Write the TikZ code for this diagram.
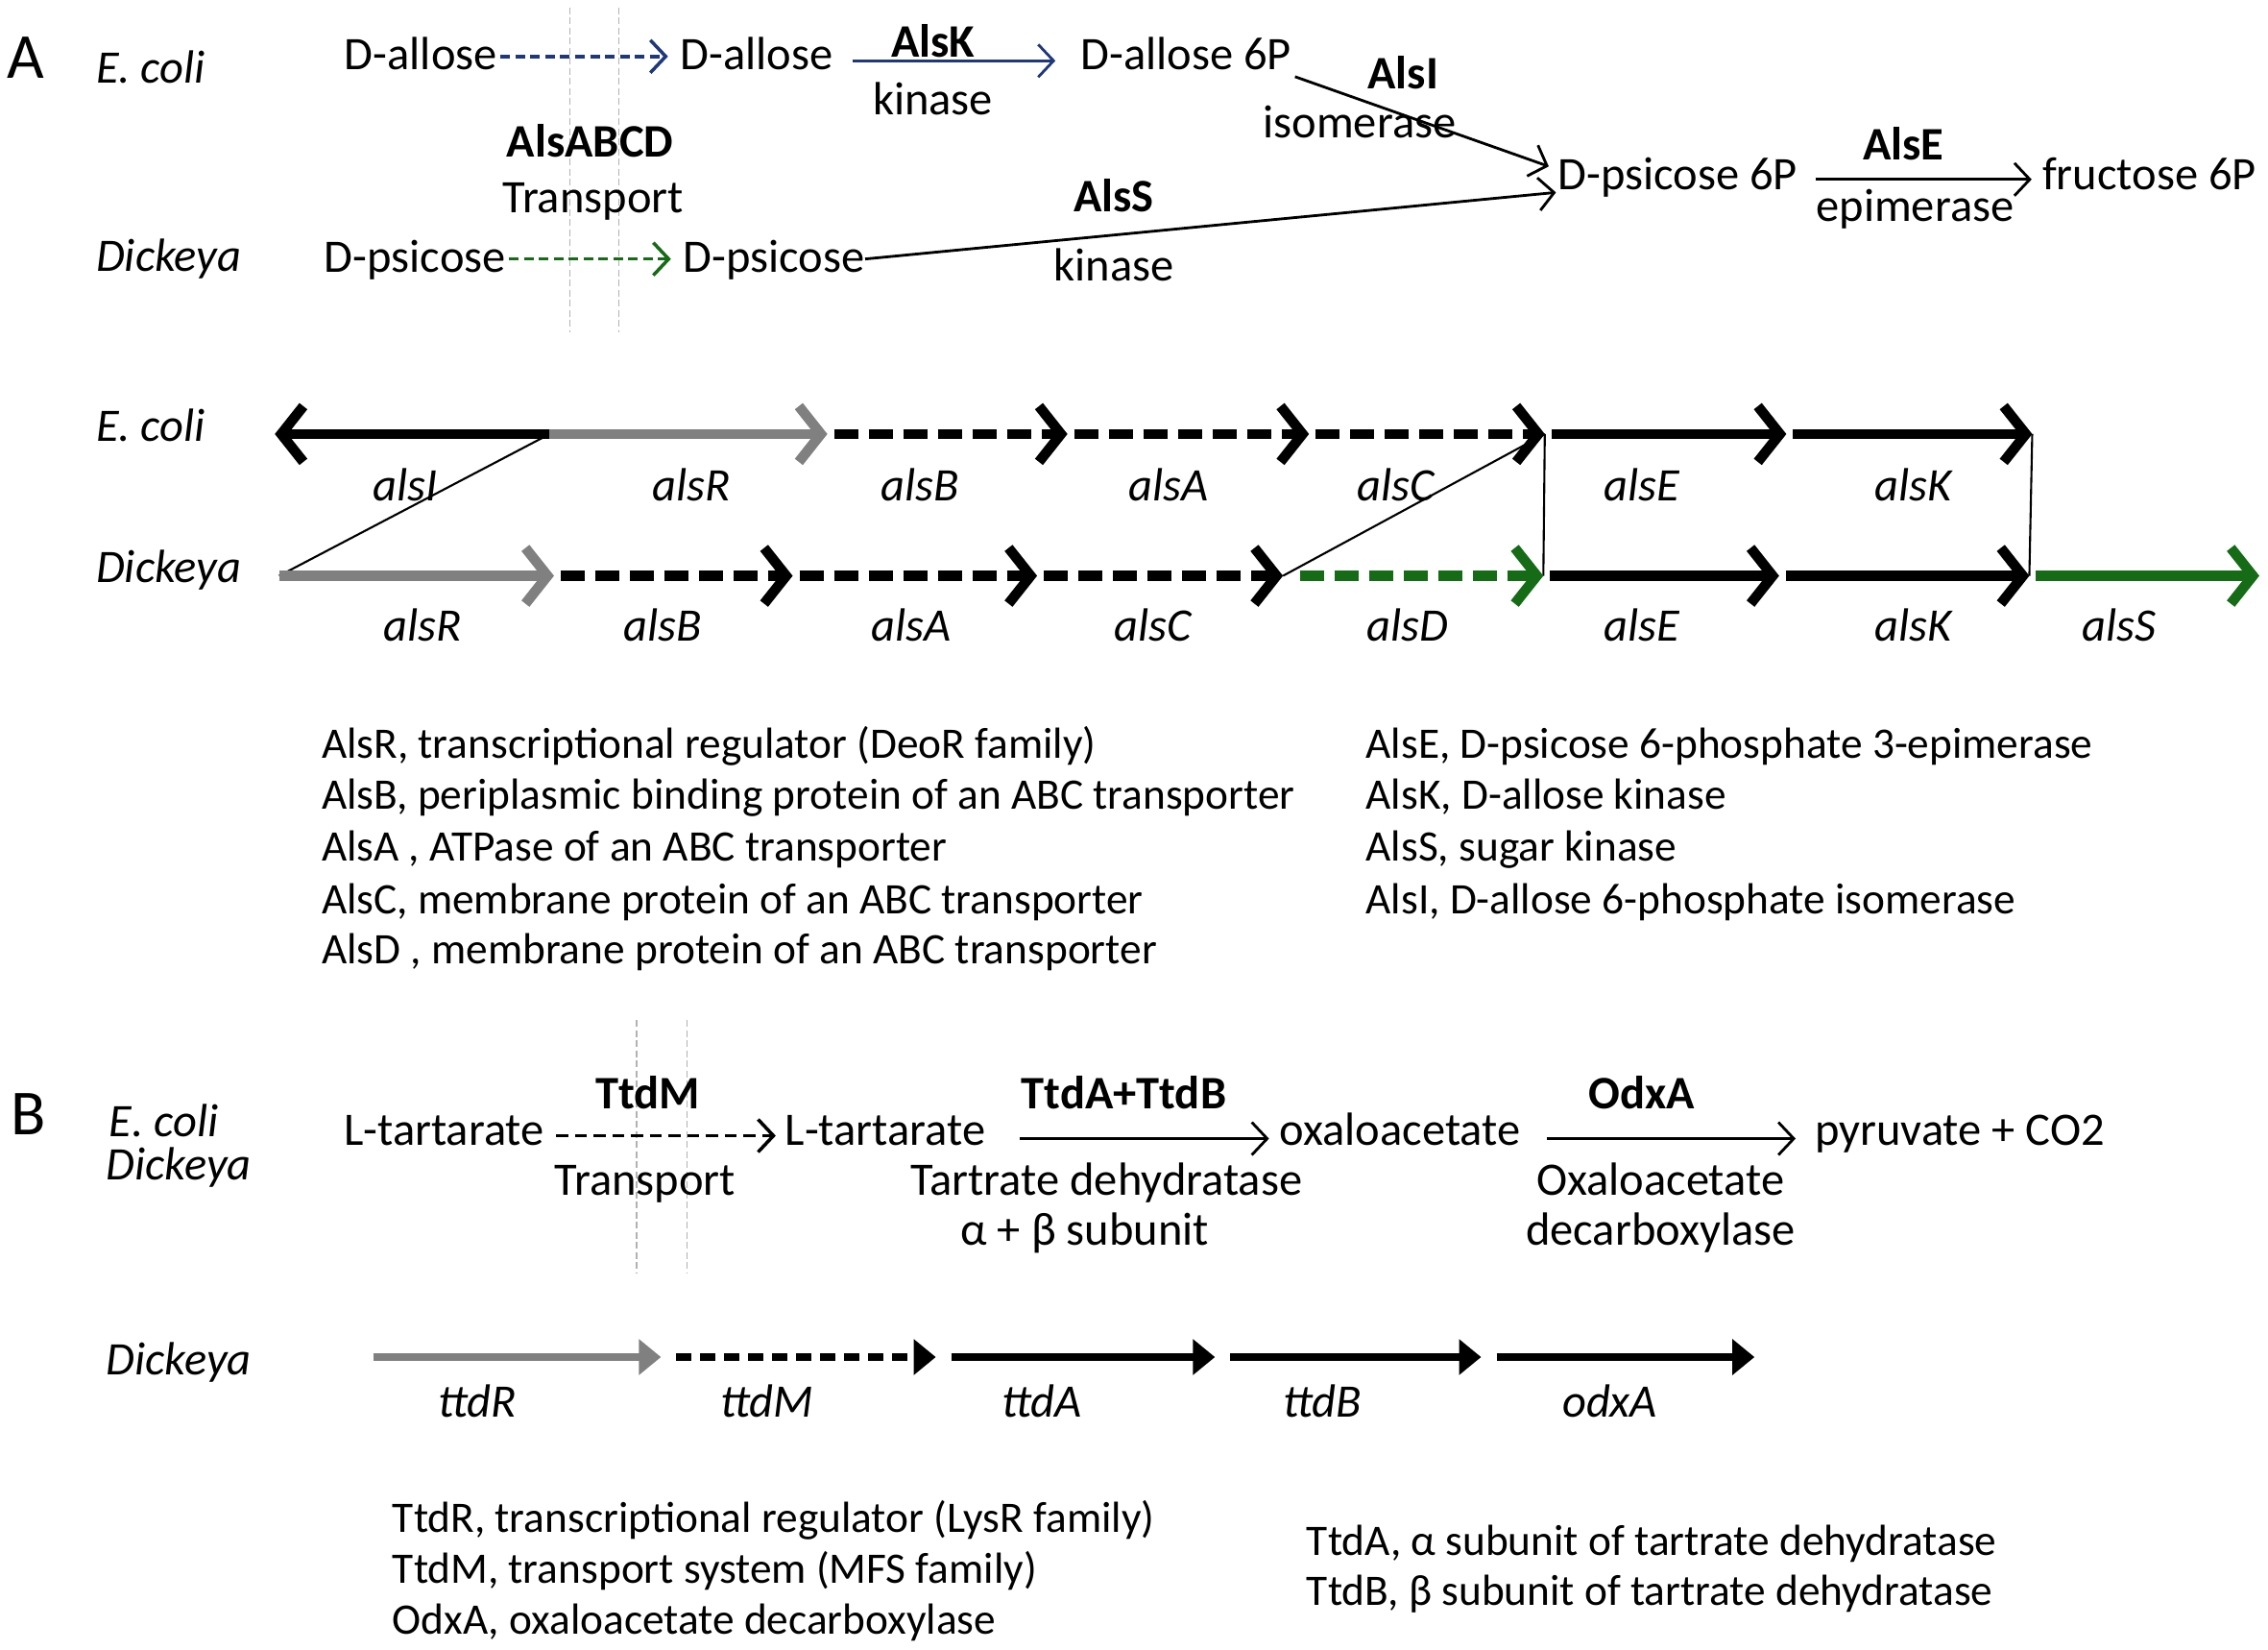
\documentclass[tikz,border=0pt]{standalone}
\usepackage{fontspec}
\setmainfont{Carlito}
\usetikzlibrary{positioning}
\usetikzlibrary{arrows.meta}
\definecolor{alsnavy}{RGB}{31,56,122}
\definecolor{alsgreen}{RGB}{22,108,22}
\definecolor{reggray}{RGB}{128,128,128}
\tikzset{
  metab/.style= {
    inner sep = 0pt,
    text height = 0.85em,
    text depth = 0.05em,
    font = \fontsize{13.8}{16}\selectfont
  },
  enzyme/.style= {metab, font = \fontsize{13.8}{16}\selectfont\bfseries},
  organism/.style= {metab, anchor = west, font = \fontsize{13.8}{16}\selectfont\itshape},
  genename/.style= {metab, font = \fontsize{13.8}{16}\selectfont\itshape},
  legend/.style= {metab, anchor = west, font = \fontsize{12.9}{15}\selectfont},
  panel/.style= {metab, font = \fontsize{19}{22}\selectfont},
  reaction/.style= {line width = 0.8pt, -{Straight Barb[length=1.6mm,width=3.4mm]}},
  transport/.style= {reaction, line width = 1pt, dash pattern = on 1mm off 0.55mm},
  membrane/.style= {draw = gray!60, line width = 0.4pt, dash pattern = on 0.7mm off 0.35mm},
  gene/.style= {
    line width = 3pt,
    shorten <= 0.7mm,
    -{Straight Barb[length=2.3mm,width=5.8mm]}
  },
  dashedgene/.style= {gene, dash pattern = on 2.5mm off 1.1mm},
  orf/.style= {
    line width = 2.4pt,
    shorten <= 1.6mm,
    -{Triangle[length=2.3mm,width=3.6mm]}
  },
  synteny/.style= {line width = 0.6pt}
}
\begin{document}
\begin{tikzpicture}[x=0.15064mm, y=-0.15064mm]
  \useasboundingbox (0,0) rectangle (1568,1140);

  % A: allose / psicose pathway
  \node[panel] (labA) at (18,45) {A};
  \node[organism] (ecA) at (66,48) {E. coli};
  \node[organism] (dkA) at (66,178) {Dickeya};

  \node[metab] (allo1) at (291,39) {D-allose};
  \node[metab] (allo2) at (523,39) {D-allose};
  \node[metab] (allo6p) at (820,39) {D-allose 6P};
  \node[metab] (psi6p) at (1160,122) {D-psicose 6P};
  \node[metab] (fru6p) at (1486,122) {fructose 6P};
  \node[metab] (psi1) at (287,179) {D-psicose};
  \node[metab] (psi2) at (535,179) {D-psicose};

  \coordinate (memA1) at (394,5);
  \coordinate (memA2) at (394,230);
  \coordinate (memA3) at (428,5);
  \coordinate (memA4) at (428,230);
  \draw[membrane] (memA1) -- (memA2);
  \draw[membrane] (memA3) -- (memA4);

  \node[enzyme] (alsABCD) at (408,99) {AlsABCD};
  \node[metab] (transA) at (410,138) {Transport};
  \node[enzyme] (alsK) at (645,30) {AlsK};
  \node[metab] (kinK) at (645,70) {kinase};
  \node[enzyme] (alsI) at (970,52) {AlsI};
  \node[metab] (isom) at (940,86) {isomerase};
  \node[enzyme] (alsE) at (1316,101) {AlsE};
  \node[metab] (epim) at (1324,144) {epimerase};
  \node[enzyme] (alsS) at (770,137) {AlsS};
  \node[metab] (kinS) at (770,185) {kinase};

  \draw[transport, alsnavy] ([xshift=0.3mm]allo1.east) -- ([xshift=-1.2mm]allo2.west);
  \draw[reaction, alsnavy] ([shift={(13,3)}]allo2.east) -- ([shift={(-17,3)}]allo6p.west);
  \draw[reaction] ([shift={(2,14)}]allo6p.east) -- ([shift={(-6,-7)}]psi6p.west);
  \draw[transport, alsgreen] ([xshift=0.3mm]psi1.east) -- ([xshift=-1.2mm]psi2.west);
  \draw[reaction] (psi2.east) -- ([shift={(-1,11)}]psi6p.west);
  \draw[reaction] ([shift={(12,2)}]psi6p.east) -- ([shift={(-7,2)}]fru6p.west);

  % A: gene clusters
  \node[organism] (ecG) at (66,296) {E. coli};
  \node[organism] (dkG) at (66,393) {Dickeya};

  \coordinate (ea0) at (190,300);
  \coordinate (ea1) at (380,300);
  \coordinate (ea2) at (572,300);
  \coordinate (ea3) at (738,300);
  \coordinate (ea4) at (905,300);
  \coordinate (ea5) at (1068,300);
  \coordinate (ea6) at (1235,300);
  \coordinate (ea7) at (1405,300);

  \coordinate (da0) at (193,398);
  \coordinate (da1) at (383,398);
  \coordinate (da2) at (548,398);
  \coordinate (da3) at (717,398);
  \coordinate (da4) at (887,398);
  \coordinate (da5) at (1067,398);
  \coordinate (da6) at (1230,398);
  \coordinate (da7) at (1403,398);
  \coordinate (da8) at (1562,398);

  \draw[synteny] (ea1) -- (da0);
  \draw[synteny] (ea5) -- (da4);
  \draw[synteny] (ea5) -- (da5);
  \draw[synteny] (ea7) -- (da7);

  \draw[gene, shorten <=0pt] (ea1) -- (ea0);
  \draw[gene, reggray, shorten <=0pt] (ea1) -- (ea2);
  \draw[dashedgene] (ea2) -- (ea3);
  \draw[dashedgene] (ea3) -- (ea4);
  \draw[dashedgene] (ea4) -- (ea5);
  \draw[gene] (ea5) -- (ea6);
  \draw[gene] (ea6) -- (ea7);

  \draw[gene, reggray, shorten <=0pt] (da0) -- (da1);
  \draw[dashedgene] (da1) -- (da2);
  \draw[dashedgene] (da2) -- (da3);
  \draw[dashedgene] (da3) -- (da4);
  \draw[dashedgene, alsgreen, shorten <=1.8mm] (da4) -- (da5);
  \draw[gene] (da5) -- (da6);
  \draw[gene] (da6) -- (da7);
  \draw[gene, alsgreen] (da7) -- (da8);

  \node[genename] (gI) at (280,337) {alsI};
  \node[genename] (gR) at (478,337) {alsR};
  \node[genename] (gB) at (636,337) {alsB};
  \node[genename] (gA) at (808,337) {alsA};
  \node[genename] (gC) at (965,337) {alsC};
  \node[genename] (gE) at (1135,337) {alsE};
  \node[genename] (gK) at (1323,337) {alsK};

  \node[genename] (hR) at (292,434) {alsR};
  \node[genename] (hB) at (458,434) {alsB};
  \node[genename] (hA) at (630,434) {alsA};
  \node[genename] (hC) at (797,434) {alsC};
  \node[genename] (hD) at (973,434) {alsD};
  \node[genename] (hE) at (1135,434) {alsE};
  \node[genename] (hK) at (1323,434) {alsK};
  \node[genename] (hS) at (1465,434) {alsS};

  \node[legend] (lsR) at (222,515) {AlsR, transcriptional regulator (DeoR family)};
  \node[legend] (lsB) at (222,550) {AlsB, periplasmic binding protein of an ABC transporter};
  \node[legend] (lsA) at (222,586) {AlsA , ATPase of an ABC transporter};
  \node[legend] (lsC) at (222,622) {AlsC, membrane protein of an ABC transporter};
  \node[legend] (lsD) at (222,657) {AlsD , membrane protein of an ABC transporter};
  \node[legend] (lsE) at (944,515) {AlsE, D-psicose 6-phosphate 3-epimerase};
  \node[legend] (lsK) at (944,550) {AlsK, D-allose kinase};
  \node[legend] (lsS) at (944,586) {AlsS, sugar kinase};
  \node[legend] (lsI) at (944,622) {AlsI, D-allose 6-phosphate isomerase};

  % B: tartrate pathway
  \node[panel] (labB) at (20,775) {B};
  \node[organism] (ecB) at (75,776) {E. coli};
  \node[organism] (dkB) at (73,806) {Dickeya};

  \node[metab] (tart1) at (307,782) {L-tartarate};
  \node[metab] (tart2) at (612,782) {L-tartarate};
  \node[metab] (oxac) at (968,782) {oxaloacetate};
  \node[metab] (pyr) at (1355,782) {pyruvate + CO2};

  \coordinate (memB1) at (440,705);
  \coordinate (memB2) at (440,880);
  \coordinate (memB3) at (475,705);
  \coordinate (memB4) at (475,880);
  \draw[membrane] (memB1) -- (memB2);
  \draw[membrane] (memB3) -- (memB4);

  \node[enzyme] (ttdM) at (448,757) {TtdM};
  \node[metab] (transB) at (446,817) {Transport};
  \node[enzyme] (ttdAB) at (777,757) {TtdA+TtdB};
  \node[metab] (dehyd) at (765,817) {Tartrate dehydratase};
  \node[metab] (subun) at (750,851) {α + β subunit};
  \node[enzyme] (odxA) at (1135,757) {OdxA};
  \node[metab] (oxal) at (1148,817) {Oxaloacetate};
  \node[metab] (decarb) at (1148,851) {decarboxylase};

  \draw[transport, dash pattern = on 1.25mm off 0.7mm] ([shift={(8,3)}]tart1.east) -- ([shift={(-6,3)}]tart2.west);
  \draw[reaction] ([shift={(23,5)}]tart2.east) -- ([shift={(-7,5)}]oxac.west);
  \draw[reaction] ([shift={(18,5)}]oxac.east) -- ([shift={(-13,5)}]pyr.west);

  % B: gene cluster
  \node[organism] (dkT) at (73,941) {Dickeya};

  \coordinate (tb0) at (258,938);
  \coordinate (tb1) at (457,938);
  \coordinate (tb2) at (647,938);
  \coordinate (tb3) at (840,938);
  \coordinate (tb4) at (1024,938);
  \coordinate (tb5) at (1213,938);

  \draw[orf, reggray, shorten <=0pt] (tb0) -- (tb1);
  \draw[orf, dash pattern = on 1.6mm off 0.9mm] (tb1) -- (tb2);
  \draw[orf] (tb2) -- (tb3);
  \draw[orf] (tb3) -- (tb4);
  \draw[orf] (tb4) -- (tb5);

  \node[genename] (tR) at (330,970) {ttdR};
  \node[genename] (tM) at (530,970) {ttdM};
  \node[genename] (tA) at (720,970) {ttdA};
  \node[genename] (tB) at (914,970) {ttdB};
  \node[genename] (oA) at (1113,970) {odxA};

  \node[legend] (ltR) at (271,1050) {TtdR, transcriptional regulator (LysR family)};
  \node[legend] (ltM) at (271,1085) {TtdM, transport system (MFS family)};
  \node[legend] (loA) at (271,1120) {OdxA, oxaloacetate decarboxylase};
  \node[legend] (ltA) at (903,1066) {TtdA, α subunit of tartrate dehydratase};
  \node[legend] (ltB) at (903,1100) {TtdB, β subunit of tartrate dehydratase};

\end{tikzpicture}
\end{document}
